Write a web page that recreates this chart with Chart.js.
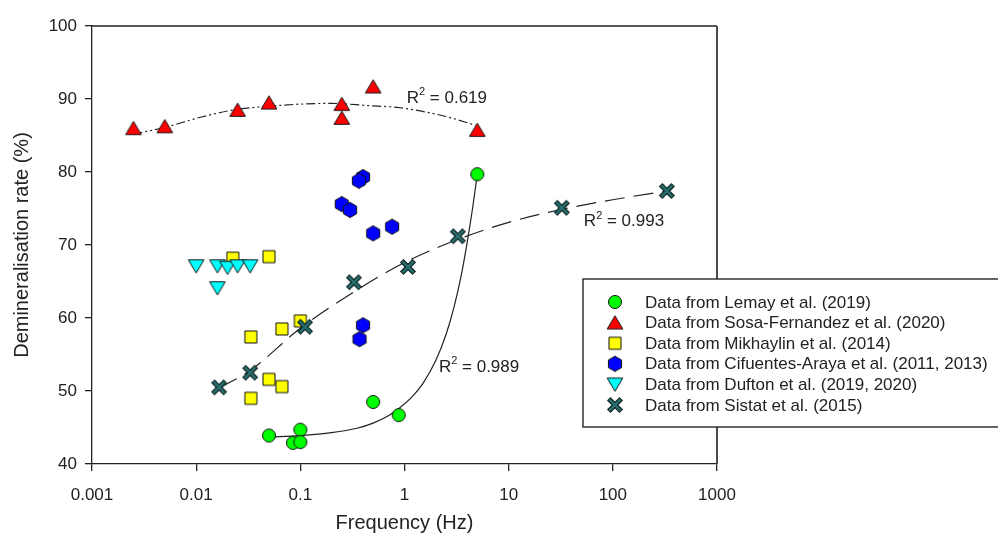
<!DOCTYPE html>
<html><head><meta charset="utf-8">
<script src="https://cdn.jsdelivr.net/npm/chart.js@4/dist/chart.umd.min.js"></script>
<style>html,body{margin:0;padding:0;background:#fff;}canvas{display:block;}</style>
</head><body>
<canvas id="c" width="998" height="539"></canvas>
<script>
// ---------- data ----------
const xTickValues = [0.001, 0.01, 0.1, 1, 10, 100, 1000];
const xTickLabels = ['0.001', '0.01', '0.1', '1', '10', '100', '1000'];

const lemayX = [0.05, 0.085, 0.1, 0.1, 0.5, 0.88, 5.0];
const lemayY = [43.9, 42.9, 44.7, 43.0, 48.5, 46.7, 79.7];

const sosaX = [0.0025, 0.005, 0.025, 0.05, 0.25, 0.25, 0.5, 5.0];
const sosaY = [86.0, 86.25, 88.5, 89.5, 89.3, 87.4, 91.7, 85.75];

const mikhX = [0.0225, 0.05, 0.0335, 0.0665, 0.1, 0.05, 0.0665, 0.0335];
const mikhY = [68.2, 68.4, 57.4, 58.5, 59.6, 51.6, 50.6, 49.0];

const cifX = [0.40, 0.365, 0.25, 0.30, 0.5, 0.76, 0.40, 0.37];
const cifY = [79.3, 78.8, 75.6, 74.8, 71.6, 72.5, 59.0, 57.1];

const dufX = [0.01, 0.016, 0.02, 0.025, 0.033, 0.016];
const dufY = [67.1, 67.1, 66.9, 67.1, 67.1, 64.1];

const sistX = [0.0166, 0.033, 0.111, 0.327, 1.08, 3.25, 32.4, 330];
const sistY = [50.5, 52.5, 58.8, 64.9, 67.0, 71.2, 75.1, 77.4];

// fitted curves
const sosaFitX = [0.0025, 0.005, 0.011, 0.025, 0.05, 0.1, 0.2, 0.44, 0.9, 2.5, 4.8];
const sosaFitY = [85.2, 86.1, 87.5, 88.6, 89.0, 89.3, 89.4, 89.1, 88.8, 87.6, 86.4];

const sistFitX = [0.0166, 0.033, 0.1, 0.33, 1, 3.3, 10, 33, 100, 330];
const sistFitY = [50.4, 52.8, 58.6, 63.6, 67.6, 70.8, 73.1, 74.9, 76.2, 77.4];

const lemayFitX = [0.05, 0.1, 0.2, 0.35, 0.5, 0.7, 0.9, 1.2, 1.5, 2.0, 2.5, 3.0, 3.5, 4.0, 4.5, 5.0];
const lemayFitY = [43.7, 43.9, 44.3, 44.9, 45.6, 46.6, 47.7, 49.3, 51.0, 54.2, 57.7, 61.6, 65.8, 70.4, 75.0, 79.7];

const r2Texts = ['0.619', '0.993', '0.989'];
const r2X = [1.05, 52.7, 2.14];
const r2Y = [90.1, 73.2, 53.3];

const legendLabels = [
  'Data from Lemay et al. (2019)',
  'Data from Sosa-Fernandez et al. (2020)',
  'Data from Mikhaylin et al. (2014)',
  'Data from Cifuentes-Araya et al. (2011, 2013)',
  'Data from Dufton et al. (2019, 2020)',
  'Data from Sistat et al. (2015)'
];

// ---------- helpers ----------
const FONT = 'Arial, "Liberation Sans", sans-serif';
const TEXT = '#222';
const pts = (xs, ys) => xs.map((v, i) => ({x: v, y: ys[i]}));

function makeMarker(kind, fill) {
  const c = document.createElement('canvas');
  c.width = 20; c.height = 20;
  const g = c.getContext('2d');
  const cx = 10, cy = 10;
  g.fillStyle = fill; g.strokeStyle = '#111'; g.lineWidth = 1;
  if (kind === 'x') {
    g.lineCap = 'butt';
    const d = 6.3;
    g.strokeStyle = '#0b2424'; g.lineWidth = 5;
    g.beginPath(); g.moveTo(cx - d, cy - d); g.lineTo(cx + d, cy + d);
    g.moveTo(cx + d, cy - d); g.lineTo(cx - d, cy + d); g.stroke();
    const e = 5.6;
    g.strokeStyle = fill; g.lineWidth = 2.6;
    g.beginPath(); g.moveTo(cx - e, cy - e); g.lineTo(cx + e, cy + e);
    g.moveTo(cx + e, cy - e); g.lineTo(cx - e, cy + e); g.stroke();
    return c;
  }
  g.beginPath();
  if (kind === 'circle') {
    g.arc(cx, cy, 6.5, 0, Math.PI * 2);
  } else if (kind === 'triUp') {
    g.moveTo(cx, cy - 6.8); g.lineTo(cx + 7.8, cy + 6.3); g.lineTo(cx - 7.8, cy + 6.3); g.closePath();
  } else if (kind === 'triDown') {
    g.moveTo(cx - 7.8, cy - 6.3); g.lineTo(cx + 7.8, cy - 6.3); g.lineTo(cx, cy + 6.8); g.closePath();
  } else if (kind === 'square') {
    g.rect(cx - 6, cy - 6, 12, 12);
  } else if (kind === 'hex') {
    for (let i = 0; i < 6; i++) {
      const a = -Math.PI / 2 + i * Math.PI / 3;
      const px = cx + 7.6 * Math.cos(a), py = cy + 7.6 * Math.sin(a);
      if (i === 0) g.moveTo(px, py); else g.lineTo(px, py);
    }
    g.closePath();
  }
  g.fill(); g.stroke();
  return c;
}

const markers = [
  makeMarker('circle', '#00ff00'),
  makeMarker('triUp', '#ff0000'),
  makeMarker('square', '#ffff00'),
  makeMarker('hex', '#0000ff'),
  makeMarker('triDown', '#00ffff'),
  makeMarker('x', '#2b6e6e')
];

function scatterSet(label, xs, ys, marker, order) {
  return {
    label, data: pts(xs, ys), pointStyle: marker, pointRadius: 8,
    showLine: false, order
  };
}
function fitSet(xs, ys, dash) {
  return {
    label: 'fit', data: pts(xs, ys), showLine: true, pointRadius: 0,
    borderColor: '#222', borderWidth: 1.2, borderDash: dash,
    cubicInterpolationMode: 'monotone', fill: false, order: 10
  };
}

const decorPlugin = {
  id: 'decor',
  afterDraw(chart) {
    const {ctx, chartArea: a, scales: {x, y}} = chart;
    ctx.save();
    // top and right frame
    ctx.strokeStyle = '#222'; ctx.lineWidth = 1.3;
    ctx.beginPath(); ctx.moveTo(a.left, a.top); ctx.lineTo(a.right, a.top); ctx.stroke();
    ctx.strokeStyle = '#4a4a4a'; ctx.lineWidth = 2;
    ctx.beginPath(); ctx.moveTo(a.right, a.top); ctx.lineTo(a.right, a.bottom); ctx.stroke();

    // R² labels
    ctx.fillStyle = TEXT; ctx.textBaseline = 'middle'; ctx.textAlign = 'left';
    r2Texts.forEach((t, i) => {
      let px = x.getPixelForValue(r2X[i]);
      const py = y.getPixelForValue(r2Y[i]);
      ctx.font = '17px ' + FONT;
      ctx.fillText('R', px, py);
      px += ctx.measureText('R').width;
      ctx.font = '11px ' + FONT;
      ctx.fillText('2', px, py - 6);
      px += ctx.measureText('2').width;
      ctx.font = '17px ' + FONT;
      ctx.fillText(' = ' + t, px, py);
    });

    // legend
    const bx = 583, by = 279, bw = 430, bh = 148;
    ctx.fillStyle = '#fff';
    ctx.fillRect(bx, by, bw, bh);
    ctx.strokeStyle = '#333'; ctx.lineWidth = 1.5;
    ctx.strokeRect(bx, by, bw, bh);
    ctx.font = '17px ' + FONT; ctx.fillStyle = TEXT; ctx.textBaseline = 'middle';
    legendLabels.forEach((lab, i) => {
      const ly = 302 + i * 20.6;
      const m = markers[i];
      ctx.drawImage(m, 615 - m.width / 2, ly - m.height / 2);
      ctx.fillText(lab, 645, ly + 1);
    });
    ctx.restore();
  }
};

new Chart(document.getElementById('c'), {
  type: 'scatter',
  data: {
    datasets: [
      fitSet(sosaFitX, sosaFitY, [9, 3, 2, 3, 2, 3]),
      fitSet(sistFitX, sistFitY, [20, 9]),
      fitSet(lemayFitX, lemayFitY, []),
      scatterSet(legendLabels[0], lemayX, lemayY, markers[0], 6),
      scatterSet(legendLabels[1], sosaX, sosaY, markers[1], 5),
      scatterSet(legendLabels[2], mikhX, mikhY, markers[2], 4),
      scatterSet(legendLabels[3], cifX, cifY, markers[3], 3),
      scatterSet(legendLabels[4], dufX, dufY, markers[4], 2),
      scatterSet(legendLabels[5], sistX, sistY, markers[5], 1)
    ]
  },
  options: {
    responsive: false, animation: false, events: [],
    layout: {padding: {top: 26, right: 281, left: 0, bottom: 0}},
    plugins: {legend: {display: false}, tooltip: {enabled: false}},
    scales: {
      x: {
        type: 'logarithmic', min: 0.001, max: 1000,
        afterBuildTicks: s => { s.ticks = xTickValues.map(v => ({value: v})); },
        afterFit: s => { s.height = 75; },
        ticks: {
          autoSkip: false, maxRotation: 0, padding: 14, color: TEXT,
          font: {family: FONT, size: 17},
          callback: (v, i) => xTickLabels[i]
        },
        grid: {drawOnChartArea: false, drawTicks: true, tickLength: 7, color: '#222', lineWidth: 1.3},
        border: {display: true, color: '#222', width: 1.3},
        title: {display: true, text: 'Frequency (Hz)', color: TEXT,
                font: {family: FONT, size: 20}, padding: {bottom: 4, top: 0}}
      },
      y: {
        min: 40, max: 100,
        afterFit: s => { s.width = 92; },
        ticks: {stepSize: 10, padding: 8, color: TEXT, font: {family: FONT, size: 17}},
        grid: {drawOnChartArea: false, drawTicks: true, tickLength: 7, color: '#222', lineWidth: 1.3},
        border: {display: true, color: '#222', width: 1.3},
        title: {display: true, text: 'Demineralisation rate (%)', color: TEXT,
                font: {family: FONT, size: 20}, padding: {top: 10, bottom: 0}}
      }
    }
  },
  plugins: [decorPlugin]
});
</script>
</body></html>
